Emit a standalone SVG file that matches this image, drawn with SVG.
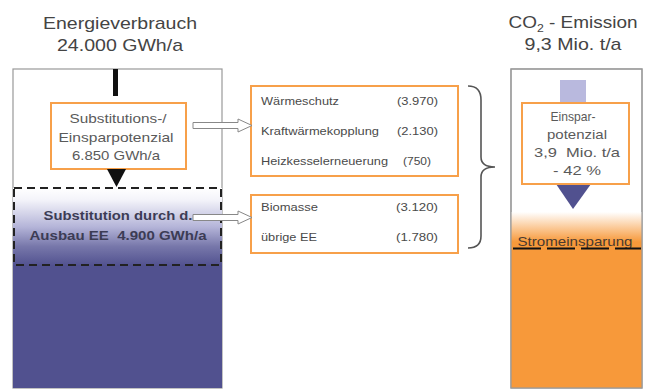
<svg xmlns="http://www.w3.org/2000/svg" width="651" height="392" viewBox="0 0 651 392">
<defs>
<linearGradient id="gNavy" x1="0" y1="188" x2="0" y2="266" gradientUnits="userSpaceOnUse">
<stop offset="0" stop-color="#ffffff"/>
<stop offset="0.15" stop-color="#f4f4fa"/>
<stop offset="0.5" stop-color="#b4b4d8"/>
<stop offset="0.75" stop-color="#7777aa"/>
<stop offset="1" stop-color="#51518f"/>
</linearGradient>
<linearGradient id="gOrange" x1="0" y1="212" x2="0" y2="242" gradientUnits="userSpaceOnUse">
<stop offset="0" stop-color="#ffffff"/>
<stop offset="1" stop-color="#f7993a"/>
</linearGradient>
</defs>
<style>
.title{font-family:"Liberation Sans",Arial,sans-serif;font-size:17px;fill:#444;text-anchor:middle}
.box{fill:#ffffff;stroke:#f7a04a;stroke-width:2}
.bt{font-family:"Liberation Sans",Arial,sans-serif;font-size:13px;fill:#5a5a5a;text-anchor:middle}
.st{font-family:"Liberation Sans",Arial,sans-serif;font-size:10.5px;fill:#4a4a4a}
.sr{font-family:"Liberation Sans",Arial,sans-serif;font-size:10.5px;fill:#4a4a4a;text-anchor:end}
.frame{fill:#ffffff;stroke:#999;stroke-width:1.2}
.dash{fill:none;stroke:#222;stroke-width:2;stroke-dasharray:8 5}
.hollow{fill:#ffffff;stroke:#888;stroke-width:1}
</style>
<rect width="651" height="392" fill="#ffffff"/>

<g id="title-left">
<text class="title" x="120" y="29" textLength="154" lengthAdjust="spacingAndGlyphs">Energieverbrauch</text>
<text class="title" x="120" y="51" textLength="126" lengthAdjust="spacingAndGlyphs">24.000 GWh/a</text>
</g>

<g id="left-column">
<rect class="frame" x="13" y="69" width="209" height="319"/>
<rect x="13" y="188" width="209" height="78" fill="url(#gNavy)"/>
<rect x="13" y="265" width="209" height="123" fill="#51518f"/>
<rect class="dash" x="14" y="188" width="207" height="77"/>
<text x="118" y="220" font-family="'Liberation Sans',Arial,sans-serif" font-size="13" font-weight="bold" fill="#3c3c55" text-anchor="middle" textLength="149" lengthAdjust="spacingAndGlyphs">Substitution durch d.</text>
<text x="118" y="240" font-family="'Liberation Sans',Arial,sans-serif" font-size="13" font-weight="bold" fill="#3c3c55" text-anchor="middle" textLength="177" lengthAdjust="spacingAndGlyphs" xml:space="preserve">Ausbau EE  4.900 GWh/a</text>
</g>

<g id="node-substitution">
<rect class="box" x="51" y="103" width="135" height="66"/>
<text class="bt" x="118" y="123" textLength="97" lengthAdjust="spacingAndGlyphs">Substitutions-/</text>
<text class="bt" x="116" y="142" textLength="115" lengthAdjust="spacingAndGlyphs">Einsparpotenzial</text>
<text class="bt" x="116" y="160" textLength="88" lengthAdjust="spacingAndGlyphs">6.850 GWh/a</text>
</g>

<g id="node-einsparung">
<rect class="box" x="251" y="86" width="207" height="90"/>
<text class="st" x="261" y="105" textLength="78" lengthAdjust="spacingAndGlyphs">Wärmeschutz</text>
<text class="sr" x="438" y="105" textLength="41" lengthAdjust="spacingAndGlyphs">(3.970)</text>
<text class="st" x="261" y="135" textLength="118" lengthAdjust="spacingAndGlyphs">Kraftwärmekopplung</text>
<text class="sr" x="438" y="135" textLength="41" lengthAdjust="spacingAndGlyphs">(2.130)</text>
<text class="st" x="261" y="165" textLength="127" lengthAdjust="spacingAndGlyphs">Heizkesselerneuerung</text>
<text class="sr" x="431" y="165" textLength="28" lengthAdjust="spacingAndGlyphs">(750)</text>
</g>

<g id="node-ee">
<rect class="box" x="251" y="195" width="207" height="58"/>
<text class="st" x="261" y="211" textLength="57" lengthAdjust="spacingAndGlyphs">Biomasse</text>
<text class="sr" x="438" y="211" textLength="42" lengthAdjust="spacingAndGlyphs">(3.120)</text>
<text class="st" x="261" y="241" textLength="56" lengthAdjust="spacingAndGlyphs">übrige EE</text>
<text class="sr" x="438" y="241" textLength="42" lengthAdjust="spacingAndGlyphs">(1.780)</text>
</g>

<g id="title-right">
<text class="title" x="573" y="28" textLength="129" lengthAdjust="spacingAndGlyphs">CO<tspan font-size="11" dy="4">2</tspan><tspan dy="-4"> - Emission</tspan></text>
<text class="title" x="573" y="50" textLength="97" lengthAdjust="spacingAndGlyphs">9,3 Mio. t/a</text>
</g>

<g id="right-column">
<rect class="frame" x="511" y="69" width="131" height="319"/>
<rect x="511" y="212" width="131" height="36" fill="url(#gOrange)"/>
<rect x="511" y="248" width="131" height="140" fill="#f7993a"/>
<rect x="511" y="69" width="131" height="319" fill="none" stroke="#999" stroke-width="1.2"/>
<rect x="560" y="80" width="26" height="24" fill="#b9b9de"/>
<polygon points="556,184 591,184 573,209" fill="#51518f"/>
<text x="575" y="246" font-family="'Liberation Sans',Arial,sans-serif" font-size="13" fill="#4a3a30" text-anchor="middle" textLength="115" lengthAdjust="spacingAndGlyphs">Stromeinsparung</text>
<line x1="513" y1="248.5" x2="641" y2="248.5" stroke="#111" stroke-width="2" stroke-dasharray="28 6"/>
</g>

<g id="node-co2">
<rect class="box" x="522" y="103" width="107" height="81"/>
<text class="bt" x="573" y="121" font-size="12" textLength="45" lengthAdjust="spacingAndGlyphs">Einspar-</text>
<text class="bt" x="577" y="139" font-size="12" textLength="60" lengthAdjust="spacingAndGlyphs">potenzial</text>
<text class="bt" x="577" y="157" font-size="12" textLength="86" lengthAdjust="spacingAndGlyphs" xml:space="preserve">3,9  Mio. t/a</text>
<text class="bt" x="577" y="175" font-size="12" textLength="48" lengthAdjust="spacingAndGlyphs">- 42 %</text>
</g>

<g id="connectors">
<rect x="113" y="69" width="5" height="27" fill="#111"/>
<polygon points="107,169 126,169 116.5,187" fill="#111"/>
<path class="hollow" d="M193,122.5 H238 V119 L252,125.5 L238,132 V128.5 H193 Z"/>
<path class="hollow" d="M193,214.5 H238 V211 L252,217.5 L238,224 V220.5 H193 Z"/>
<path d="M468,86 C477,86 481,91 481,100 L481,157 C481,164 486,167 495,167 C486,167 481,170 481,177 L481,236 C481,244 477,248 468,248" fill="none" stroke="#555" stroke-width="1.6"/>
</g>
</svg>
